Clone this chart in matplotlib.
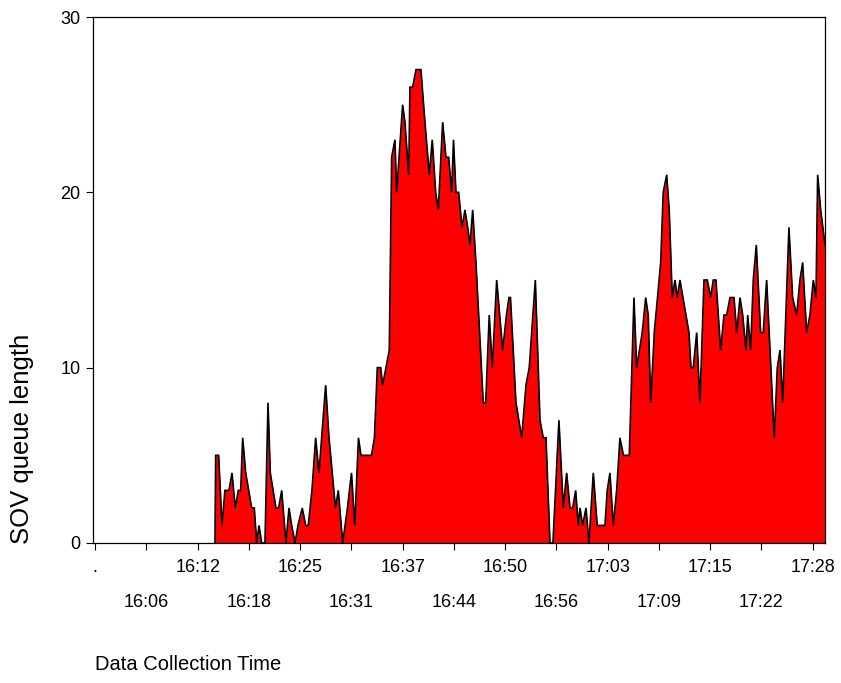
import matplotlib
matplotlib.use("Agg")
import matplotlib.pyplot as plt
import numpy as np

# minutes after the first tick (".") and SOV queue length
minutes = [14.60, 14.69, 15.05, 15.46, 15.82, 16.31, 16.68, 17.08, 17.45, 17.74,
           17.98, 18.35, 19.08, 19.40, 19.69, 19.97, 20.30, 20.70, 21.07, 21.35,
           22.04, 22.37, 22.74, 23.26, 23.63, 23.96, 24.36, 24.73, 25.25, 25.66,
           25.98, 26.43, 26.88, 27.29, 28.10, 28.51, 29.30, 29.64, 30.18, 30.76,
           31.25, 31.65, 32.10, 32.41, 33.69, 34.05, 34.40, 34.81, 35.05, 35.86,
           36.15, 36.55, 36.76, 37.49, 37.77, 38.23, 38.38, 38.71, 39.12, 39.72,
           40.21, 40.74, 41.10, 41.52, 41.84, 42.37, 42.77, 43.10, 43.47, 43.69,
           43.99, 44.32, 44.73, 45.09, 45.42, 45.70, 46.03, 46.43, 47.32, 47.62,
           48.05, 48.42, 48.96, 49.69, 50.15, 50.46, 50.64, 51.31, 52.01, 52.53,
           52.93, 53.67, 54.24, 54.64, 54.97, 55.46, 55.82, 56.55, 57.08, 57.49,
           57.90, 58.23, 58.59, 58.91, 59.12, 59.44, 59.85, 60.21, 60.74, 61.22,
           62.16, 62.44, 62.77, 63.18, 63.59, 63.99, 64.42, 65.13, 65.70, 66.03,
           66.71, 67.13, 67.44, 67.74, 68.18, 68.96, 69.27, 69.69, 70.00, 70.37,
           70.70, 70.98, 71.31, 72.41, 72.65, 72.93, 73.35, 73.75, 74.24, 74.64,
           75.05, 75.37, 75.70, 76.27, 76.68, 77.01, 77.41, 77.90, 78.23, 78.63,
           78.96, 79.36, 79.57, 79.93, 80.25, 80.62, 81.15, 81.47, 81.88, 82.29,
           82.81, 83.18, 83.51, 83.84, 84.60, 85.05, 85.54, 85.94, 86.27, 86.76,
           87.16, 87.57, 87.90, 88.10, 88.47, 89.00]
queue = [0, 5, 5, 1, 3, 3, 4, 2, 3, 3,
         6, 4, 2, 2, 0, 1, 0, 0, 8, 4,
         2, 2, 3, 0, 2, 1, 0, 1, 2, 1,
         1, 3, 6, 4, 9, 6, 2, 3, 0, 2,
         4, 1, 6, 5, 5, 6, 10, 10, 9, 11,
         22, 23, 20, 25, 24, 21, 26, 26, 27, 27,
         24, 21, 23, 20, 19, 24, 22, 22, 20, 23,
         20, 20, 18, 19, 18, 17, 19, 16, 8, 8,
         13, 10, 15, 11, 13, 14, 14, 8, 6, 9,
         10, 15, 7, 6, 6, 0, 0, 7, 2, 4,
         2, 2, 3, 1, 2, 1, 2, 0, 4, 1,
         1, 3, 4, 1, 3, 6, 5, 5, 14, 10,
         12, 14, 13, 8, 12, 16, 20, 21, 19, 14,
         15, 14, 15, 12, 10, 10, 12, 8, 15, 15,
         14, 15, 15, 11, 13, 13, 14, 14, 12, 14,
         13, 11, 13, 11, 15, 17, 12, 12, 15, 11,
         6, 10, 11, 8, 18, 14, 13, 15, 16, 12,
         13, 15, 14, 21, 19, 17]

tick_labels = [".", "16:06", "16:12", "16:18", "16:25", "16:31", "16:37", "16:44",
               "16:50", "16:56", "17:03", "17:09", "17:15", "17:22", "17:28"]
tick_step = 6.25
y_ticks = [0, 10, 20, 30]

plt.rcParams['font.family'] = ['Liberation Sans', 'DejaVu Sans']

fig = plt.figure(figsize=(8.41, 6.83), dpi=100)
ax = fig.add_axes([0.1106, 0.2050, 0.8704, 0.7701])

t = np.array(minutes)
v = np.array(queue)
ax.fill_between(t, v, 0, color='#ff0000', linewidth=0)
ax.plot(t, v, color='black', linewidth=1.2, solid_joinstyle='miter')

ax.set_xlim(-0.27, 89.0)
ax.set_ylim(0, 30)

pos = np.arange(len(tick_labels)) * tick_step
ax.set_xticks(pos[0::2])
ax.set_xticklabels(tick_labels[0::2])
ax.set_xticks(pos[1::2], minor=True)
ax.set_xticklabels(tick_labels[1::2], minor=True)
ax.tick_params(axis='x', which='major', direction='out', length=5, width=0.8,
               labelsize=13, pad=6.5)
ax.tick_params(axis='x', which='minor', direction='out', length=5, width=0.8,
               labelsize=13, pad=31.5)

ax.set_yticks(y_ticks)
ax.set_yticklabels([str(y) for y in y_ticks])
ax.tick_params(axis='y', direction='out', length=5, width=0.8, labelsize=13, pad=4)

for s in ax.spines.values():
    s.set_linewidth(0.9)
    s.set_color('black')

fig.text(0.1130, 1 - 664 / 683, "Data Collection Time", fontsize=14.5,
         ha='left', va='center')
fig.text(22 / 841, 1 - 439 / 683, "SOV queue length", fontsize=18.5,
         rotation=90, ha='center', va='center')

fig.savefig("out.png", dpi=100)
